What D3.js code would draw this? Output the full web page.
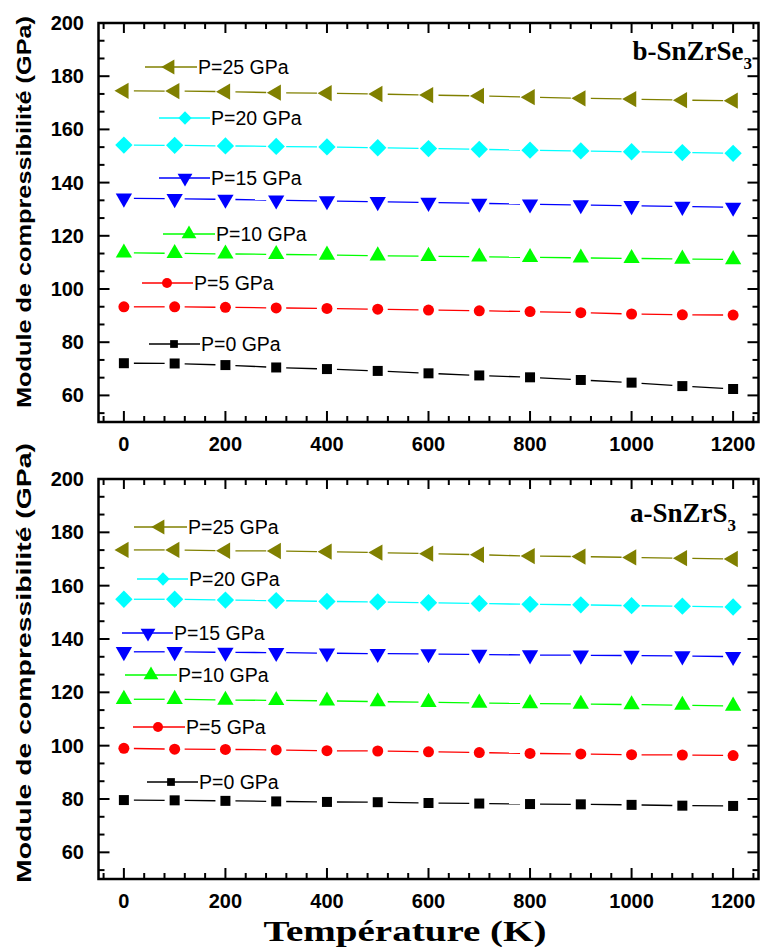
<!DOCTYPE html>
<html><head><meta charset="utf-8">
<script src="https://cdn.jsdelivr.net/npm/d3@7"></script>
<style>body{margin:0;background:#fff}svg{display:block}</style></head>
<body><svg id="c" width="760" height="947"></svg>
<script>
// ---------- data ----------
const temperatures = [0,100,200,300,400,500,600,700,800,900,1000,1100,1200];
const seriesNames = ["P=0 GPa","P=5 GPa","P=10 GPa","P=15 GPa","P=20 GPa","P=25 GPa"];
const xTicks = [0,200,400,600,800,1000,1200];
const yTicks = [60,80,100,120,140,160,180,200];

// panel b : SnZrSe3
const se_P0  = [72.1,72.0,71.4,70.5,69.9,69.2,68.3,67.5,66.8,65.8,64.8,63.5,62.4];
const se_P5  = [93.3,93.3,93.1,92.9,92.7,92.4,92.1,91.8,91.5,91.1,90.6,90.3,90.2];
const se_P10 = [113.6,113.4,113.2,113.0,112.8,112.5,112.3,112.1,111.9,111.7,111.5,111.3,111.1];
const se_P15 = [134.1,133.9,133.7,133.4,133.1,132.8,132.5,132.2,131.9,131.6,131.3,131.0,130.7];
const se_P20 = [154.1,154.0,153.8,153.6,153.4,153.1,152.8,152.5,152.2,151.9,151.6,151.3,151.0];
const se_P25 = [174.5,174.4,174.2,173.8,173.6,173.3,172.9,172.6,172.1,171.7,171.4,171.0,170.8];

// panel a : SnZrS3
const s_P0  = [79.6,79.5,79.3,79.1,78.9,78.8,78.5,78.3,78.1,78.0,77.8,77.5,77.4];
const s_P5  = [99.0,98.7,98.6,98.4,98.1,98.0,97.7,97.4,97.1,96.9,96.6,96.5,96.3];
const s_P10 = [117.4,117.4,117.1,117.0,116.8,116.5,116.3,116.0,115.8,115.6,115.4,115.2,114.9];
const s_P15 = [135.2,135.2,135.0,134.9,134.7,134.5,134.4,134.2,134.0,133.9,133.8,133.6,133.4];
const s_P20 = [154.9,154.9,154.6,154.4,154.1,153.9,153.6,153.3,153.0,152.8,152.5,152.3,152.0];
const s_P25 = [173.4,173.4,173.1,173.0,172.75,172.4,172.0,171.6,171.1,170.9,170.6,170.3,170.0];

// ---------- styles ----------
const colors = ["#000000","#ff0000","#00ff00","#0000ff","#00ffff","#808000"];
const SANS = "'Liberation Sans', Arial, sans-serif";
const SERIF = "'Liberation Serif', 'Times New Roman', serif";

const svg = d3.select("#c");
const x = d3.scaleLinear().domain([-50,1250]).range([98.5,758.5]);

const markers = [
  {type:d3.symbolSquare,   rot:0,   size:100, lsize:60},
  {type:d3.symbolCircle,   rot:0,   size:95,  lsize:78},
  {type:d3.symbolTriangle, rot:0,   size:115, lsize:95},
  {type:d3.symbolTriangle, rot:180, size:115, lsize:95},
  {type:d3.symbolSquare,   rot:45,  size:150, lsize:88},
  {type:d3.symbolTriangle, rot:-90, size:115, lsize:100}
];

const panels = [
  {top:23, bottom:422, name:"b-SnZrSe", titleX:752, titleY:60,
   data:[se_P0,se_P5,se_P10,se_P15,se_P20,se_P25],
   legend:[[149,200,174,344],[142,193,167,283],[163,215,189,234],[159,210,185,178],[159,210,185,118],[145,197,170,67]],
   labelCenter:212, labelLen:392},
  {top:479, bottom:879, name:"a-SnZrS", titleX:736, titleY:522,
   data:[s_P0,s_P5,s_P10,s_P15,s_P20,s_P25],
   legend:[[147,198,171,782],[133,185,158,727],[125,177,151,675],[122,173,148,633],[137,188,163,579],[134,187,160,527]],
   labelCenter:663, labelLen:440}
];

panels.forEach(p => {
  const y = d3.scaleLinear().domain([50,200]).range([p.bottom,p.top]);
  const g = svg.append("g");
  const x0 = x(-50), x1 = x(1250);

  const xMinor = d3.range(-40,1241,40).filter(v => v % 200 !== 0);
  const yMinor = d3.range(0,23).map(k => 200 - k*20/3).filter((v,i) => (i % 3) !== 0);
  const tk = g.append("g").attr("stroke","#000").attr("stroke-width",2);
  xTicks.forEach(v => {
    tk.append("line").attr("x1",x(v)).attr("x2",x(v)).attr("y1",p.bottom).attr("y2",p.bottom-11);
    tk.append("line").attr("x1",x(v)).attr("x2",x(v)).attr("y1",p.top).attr("y2",p.top+10);
  });
  xMinor.forEach(v => {
    tk.append("line").attr("x1",x(v)).attr("x2",x(v)).attr("y1",p.bottom).attr("y2",p.bottom-6);
    tk.append("line").attr("x1",x(v)).attr("x2",x(v)).attr("y1",p.top).attr("y2",p.top+6);
  });
  yTicks.forEach(v => {
    tk.append("line").attr("x1",x0).attr("x2",x0+11).attr("y1",y(v)).attr("y2",y(v));
    tk.append("line").attr("x1",x1).attr("x2",x1-11).attr("y1",y(v)).attr("y2",y(v));
  });
  yMinor.forEach(v => {
    tk.append("line").attr("x1",x0).attr("x2",x0+6).attr("y1",y(v)).attr("y2",y(v));
    tk.append("line").attr("x1",x1).attr("x2",x1-6).attr("y1",y(v)).attr("y2",y(v));
  });

  g.append("rect").attr("x",x0).attr("y",p.top).attr("width",x1-x0).attr("height",p.bottom-p.top)
    .attr("fill","none").attr("stroke","#000").attr("stroke-width",2.5);

  g.append("g").selectAll("text").data(xTicks).join("text")
    .attr("x",d=>x(d)).attr("y",p.bottom+29).attr("text-anchor","middle")
    .attr("font-family",SANS).attr("font-weight","bold").attr("font-size",20).text(d=>d);
  g.append("g").selectAll("text").data(yTicks).join("text")
    .attr("x",84).attr("y",d=>y(d)+7).attr("text-anchor","end")
    .attr("font-family",SANS).attr("font-weight","bold").attr("font-size",20).text(d=>d);

  g.append("text")
    .attr("transform",`translate(31,${p.labelCenter}) rotate(-90)`)
    .attr("text-anchor","middle").attr("font-family",SANS).attr("font-weight","bold")
    .attr("font-size",20).attr("textLength",p.labelLen).attr("lengthAdjust","spacingAndGlyphs")
    .text("Module de compressibilité (GPa)");

  p.data.forEach((vals,si) => {
    const pts = temperatures.map((t,i) => [x(t), y(vals[i])]);
    const col = colors[si];
    const sg = g.append("g");
    for (let i=0;i<pts.length-1;i++){
      const [ax,ay] = pts[i], [bx,by] = pts[i+1];
      const dx=bx-ax, dy=by-ay, L=Math.hypot(dx,dy), gap=10;
      sg.append("line")
        .attr("x1",ax+dx/L*gap).attr("y1",ay+dy/L*gap)
        .attr("x2",bx-dx/L*gap).attr("y2",by-dy/L*gap)
        .attr("stroke",col).attr("stroke-width",1.3);
    }
    const m = markers[si];
    const sym = d3.symbol().type(m.type).size(m.size);
    sg.selectAll("path.mk").data(pts).join("path").attr("class","mk")
      .attr("transform",d=>`translate(${d[0]},${d[1]}) rotate(${m.rot})`)
      .attr("d",sym()).attr("fill",col);

    const [lx1,lx2,lxm,ly] = p.legend[si];
    const lg = g.append("g");
    lg.append("line").attr("x1",lx1).attr("x2",lx2).attr("y1",ly).attr("y2",ly)
      .attr("stroke",col).attr("stroke-width",1.3);
    lg.append("path").attr("transform",`translate(${lxm},${ly}) rotate(${m.rot})`)
      .attr("d",d3.symbol().type(m.type).size(m.lsize)()).attr("fill",col);
    lg.append("text").attr("x",lx2+1).attr("y",ly+6.5)
      .attr("font-family",SANS).attr("font-size",19.5).attr("fill","#000").text(seriesNames[si]);
  });

  const t = g.append("text").attr("x",p.titleX).attr("y",p.titleY).attr("text-anchor","end")
    .attr("font-family",SERIF).attr("font-weight","bold").attr("font-size",27);
  t.append("tspan").text(p.name);
  t.append("tspan").attr("font-size",17).attr("dy",9).text("3");
});

svg.append("text").attr("x",405).attr("y",940.5).attr("text-anchor","middle")
  .attr("font-family",SERIF).attr("font-weight","bold").attr("font-size",30)
  .attr("textLength",283).attr("lengthAdjust","spacingAndGlyphs")
  .text("Température (K)");
</script>
</body></html>
